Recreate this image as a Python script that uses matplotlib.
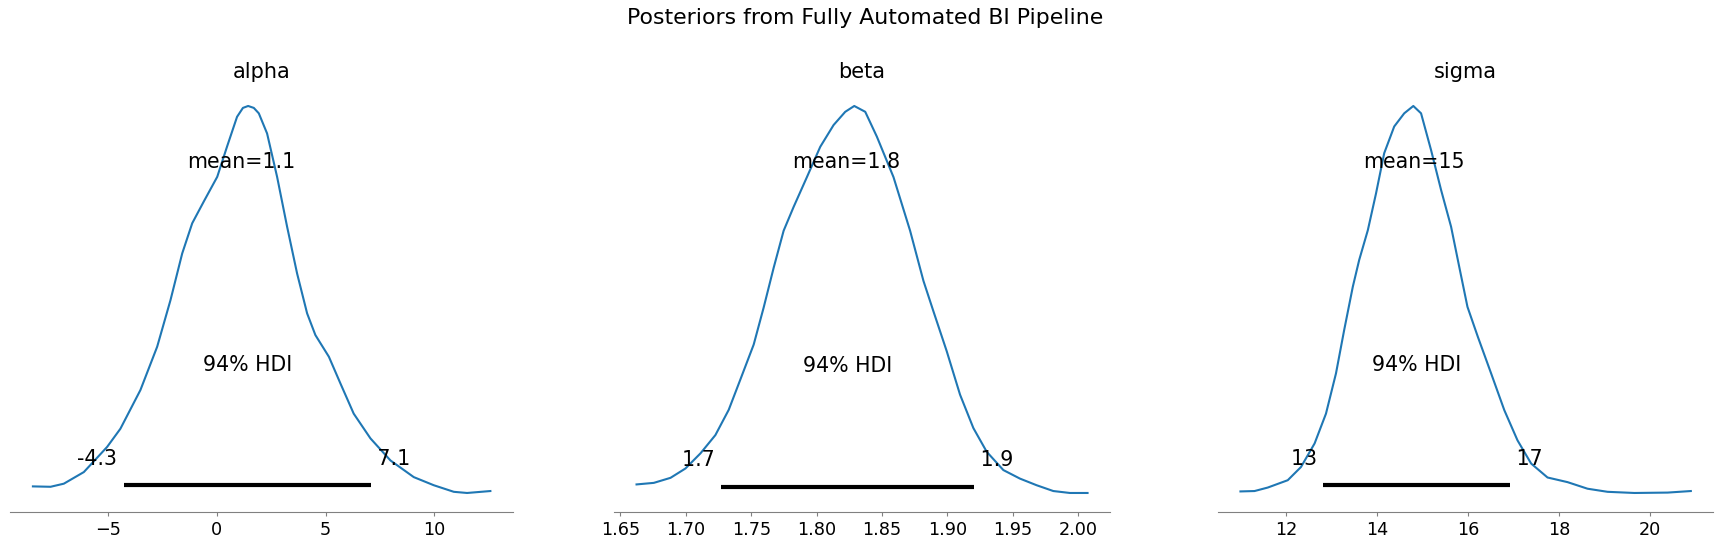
import matplotlib
matplotlib.use("Agg")
import matplotlib.pyplot as plt
import numpy as np


# parameter names and summary values
names = ["alpha", "beta", "sigma"]
means = [1.13, 1.823, 14.81]
hdi_low = [-4.27, 1.727, 12.81]
hdi_high = [7.09, 1.9207, 16.92]
hdi_prob = 0.94

# kde curves (x, relative density)
alpha_x = [-8.45, -7.64, -7.03, -6.11, -5.04, -4.43, -3.51, -2.74, -2.13, -1.59,
           -1.13, -0.60, 0.02, 0.47, 0.93, 1.20, 1.44, 1.70, 1.93, 2.31, 2.77,
           3.23, 3.69, 4.15, 4.53, 5.15, 5.68, 6.29, 7.06, 7.98, 9.05, 9.97,
           10.89, 11.5, 12.57]
alpha_d = [0.017, 0.016, 0.024, 0.054, 0.119, 0.166, 0.266, 0.378, 0.498, 0.619,
           0.697, 0.753, 0.817, 0.895, 0.972, 0.995, 1.0, 0.995, 0.981, 0.929, 0.817,
           0.688, 0.567, 0.464, 0.408, 0.352, 0.283, 0.205, 0.141, 0.084, 0.041, 0.020,
           0.003, 0.0, 0.005]

beta_x = [1.6623, 1.6755, 1.6883, 1.6997, 1.7112, 1.7226, 1.7328, 1.7417, 1.7519,
          1.7595, 1.7672, 1.7748, 1.7824, 1.7926, 1.8028, 1.8130, 1.8219, 1.8288,
          1.8372, 1.8461, 1.8588, 1.8715, 1.8817, 1.8893, 1.8995, 1.9097, 1.9199,
          1.9301, 1.9428, 1.9555, 1.9682, 1.981, 1.9937, 2.0072]
beta_d = [0.026, 0.030, 0.043, 0.067, 0.106, 0.153, 0.218, 0.296, 0.386,
          0.481, 0.584, 0.679, 0.740, 0.817, 0.895, 0.951, 0.985, 1.0,
          0.985, 0.921, 0.817, 0.679, 0.550, 0.472, 0.369, 0.257, 0.171,
          0.110, 0.063, 0.041, 0.024, 0.009, 0.004, 0.004]

sigma_x = [10.99, 11.30, 11.59, 12.03, 12.32, 12.62, 12.87, 13.09, 13.27, 13.46,
           13.60, 13.79, 13.97, 14.15, 14.37, 14.59, 14.79, 14.96, 15.18, 15.40,
           15.62, 15.80, 15.98, 16.21, 16.50, 16.79, 17.08, 17.38, 17.74, 18.18,
           18.62, 19.06, 19.65, 20.38, 20.89]
sigma_d = [0.004, 0.005, 0.014, 0.033, 0.067, 0.128, 0.205, 0.309, 0.421, 0.533,
           0.602, 0.679, 0.774, 0.878, 0.947, 0.981, 1.0, 0.981, 0.886, 0.783,
           0.688, 0.584, 0.481, 0.403, 0.309, 0.214, 0.136, 0.076, 0.040, 0.028,
           0.011, 0.003, 0.0, 0.001, 0.005]

curves = [(alpha_x, alpha_d), (beta_x, beta_d), (sigma_x, sigma_d)]

# axes boxes (left, bottom, width, height) in figure fractions
positions = [
    [0.0058, 0.0685, 0.2907, 0.774],
    [0.3547, 0.0685, 0.2866, 0.774],
    [0.7036, 0.0685, 0.2862, 0.774],
]

fig, axes = plt.subplots(1, 3, figsize=(17.31, 5.5), dpi=100)

for ax, name, (xs, ds), m, lo, hi, pos in zip(axes, names, curves, means,
                                              hdi_low, hdi_high, positions):
    ax.set_position(pos)
    ax.plot(xs, ds, color="C0", lw=1.5)
    max_d = max(ds)
    ax.plot([lo, hi], [max_d * 0.02, max_d * 0.02], color="k", lw=3,
            solid_capstyle="butt")
    plot_height = ax.get_ylim()[1]

    ax.text(m, plot_height * 0.8, f"mean={m:.2g}", ha="center", fontsize=14.8)
    ax.text(lo, plot_height * 0.07, f"{lo:.2g} ", ha="right", fontsize=14.8)
    ax.text(hi, plot_height * 0.07, f" {hi:.2g}", ha="left", fontsize=14.8)
    ax.text((lo + hi) / 2, plot_height * 0.3, f"{hdi_prob:.0%} HDI",
            ha="center", fontsize=14.8)

    ax.set_title(name, fontsize=15)
    ax.set_yticks([])
    for side in ["left", "right", "top"]:
        ax.spines[side].set_visible(False)
    ax.spines["bottom"].set_color("gray")
    ax.tick_params(axis="x", colors="gray", labelcolor="black", labelsize=12.7,
                   length=3)

fig.suptitle("Posteriors from Fully Automated BI Pipeline", fontsize=15.8, y=0.985)

fig.savefig("out.png", dpi=100)
